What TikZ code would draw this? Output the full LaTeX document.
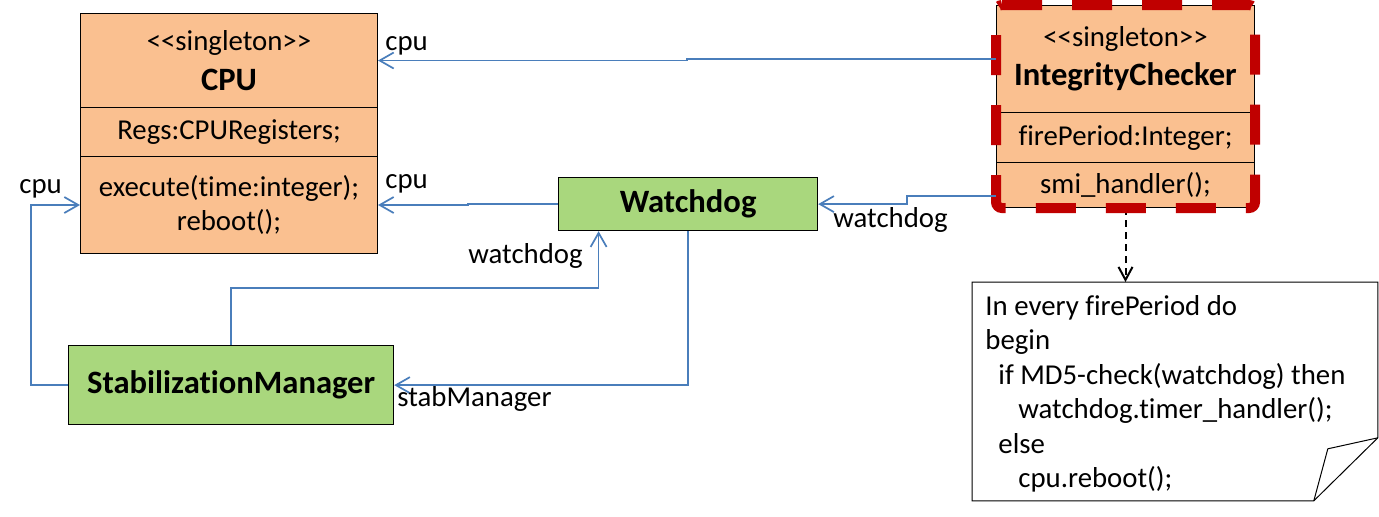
\documentclass[tikz,border=0pt]{standalone}
\usepackage{fontspec}
\setmainfont{Carlito}[Ligatures=NoCommon]
\usetikzlibrary{arrows.meta,calc}
\definecolor{orfill}{HTML}{FAC090}
\definecolor{grfill}{HTML}{A9D77D}
\definecolor{connblue}{HTML}{4A7EBB}
\definecolor{icred}{HTML}{C00000}
\newcommand{\txtr}{\fontsize{14.4}{17.2}\selectfont}
\newcommand{\txtb}{\fontsize{16.3}{19}\selectfont\bfseries}
\newcommand{\stereo}{\textless\kern0pt\textless\kern0pt singleton\textgreater\kern0pt\textgreater}
\begin{document}
\begin{tikzpicture}[x=0.5pt,y=-0.5pt,
  compart/.style={draw=black,line width=0.5pt,fill=orfill,inner sep=0pt,anchor=north west,align=center,font=\txtr},
  greenbox/.style={draw=black,line width=0.6pt,fill=grfill,inner sep=0pt,anchor=north west,align=center,font=\txtb},
  conn/.style={draw=connblue,line width=0.85pt,-{Straight Barb[length=7pt,width=8pt]}},
  dasharrow/.style={draw=black,line width=1pt,dash pattern=on 3.5pt off 2.5pt,-{Straight Barb[length=6.5pt,width=7pt]}},
  lbl/.style={anchor=base west,inner sep=0pt,font=\txtr},
  redborder/.style={draw=icred,line width=5pt,dash pattern=on 20pt off 15pt,rounded corners=3pt}
]
\useasboundingbox (0,0) rectangle (1379,516);

% CPU class
\node[compart,minimum width=148.5pt,minimum height=47pt] (cput) at (80,13) {\stereo\\[2.5pt]{\txtb CPU}};
\node[compart,minimum width=148.5pt,minimum height=24.5pt] (cpua) at (80,107) {Regs:CPURegisters;};
\node[compart,minimum width=148.5pt,minimum height=48.5pt] (cpuo) at (80,156) {execute(time:integer);\\reboot();};

% IntegrityChecker class
\node[compart,minimum width=129pt,minimum height=53.5pt] (ict) at (996,5) {\stereo\\[2.5pt]{\txtb IntegrityChecker}};
\node[compart,minimum width=129pt,minimum height=25pt] (ica) at (996,112) {firePeriod:Integer;};
\node[compart,minimum width=129pt,minimum height=22.5pt] (ico) at (996,162) {smi\_handler();};

% green classes
\node[greenbox,minimum width=129.5pt,minimum height=26.5pt] (wd) at (558,177) {Watchdog};
\node[greenbox,minimum width=162.5pt,minimum height=39.5pt] (sm) at (68,345) {StabilizationManager};

% note
\node[inner sep=0pt,anchor=north west,minimum width=202.5pt,minimum height=109pt] (note) at (972,282) {};
\draw[line width=0.5pt] (note.north west) -- (note.north east) -- ($(note.south east)+(0,-63)$) -- ($(note.south east)+(-64,0)$) -- (note.south west) -- cycle;
\draw[line width=0.5pt] ($(note.south east)+(-64,0)$) -- ($(note.south east)+(-50,-52)$) -- ($(note.south east)+(0,-63)$);
\node[anchor=north west,inner sep=0pt,align=left,font=\txtr] (notetext) at (985,295) {In every firePeriod do\\begin\\\hspace*{6.5pt}if MD5-check(watchdog) then\\\hspace*{16.5pt}watchdog.timer\_handler();\\\hspace*{6.5pt}else\\\hspace*{16.5pt}cpu.reboot();};

% dashed dependency to note
\draw[dasharrow] (ico.south) -- (ico.south |- note.north);

% red dashed border
\draw[redborder] (ict.north west) -- (ict.north east) -- (ico.south east) -- (ico.south west) -- cycle;

% connectors
\coordinate (icout) at ([yshift=-5.5pt]ico.west);
\coordinate (wdin) at ([xshift=-44.75pt]wd.south);
\draw[conn] (ict.west) -| ($(ict.west)!.5!(cput.east)$) |- (cput.east);
\draw[conn] (wd.west) -| ($(wd.west)!.5!(cpuo.east)$) |- (cpuo.east);
\draw[conn] (icout) -| ($(icout)!.5!(wd.east)$) |- (wd.east);
\draw[conn] (sm.north) |- ($(sm.north)!.5!(wdin)$) -| (wdin);
\draw[conn] (wd.south) |- (sm.east);
\draw[conn] (sm.west) -- ++(-37,0) |- (cpuo.west);

% labels
\node[lbl] (l1) at (385,50) {cpu};
\node[lbl] (l2) at (385,188) {cpu};
\node[lbl] (l3) at (19,193) {cpu};
\node[lbl] (l4) at (833,227) {watchdog};
\node[lbl] (l5) at (468,263) {watchdog};
\node[lbl] (l6) at (397,406) {stabManager};
\end{tikzpicture}
\end{document}
